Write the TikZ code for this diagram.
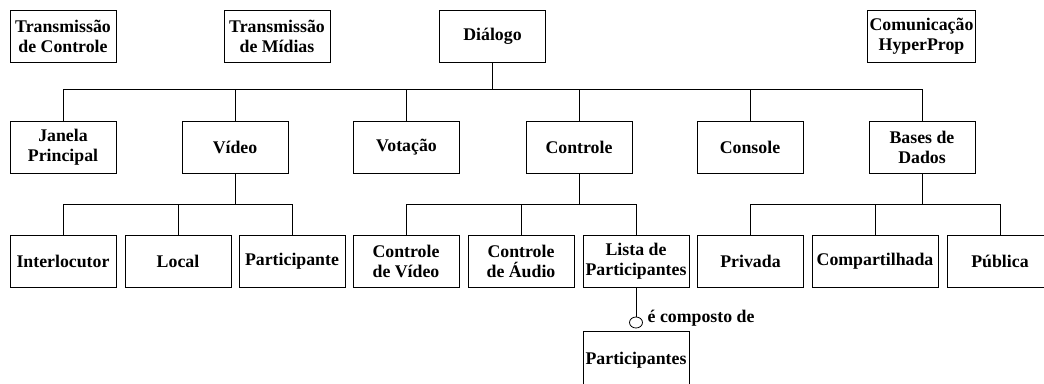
\documentclass[tikz,border=0pt]{standalone}
\usepackage{fontspec}
\setmainfont{Liberation Serif}
\usetikzlibrary{shapes.geometric}
\begin{document}
\begin{tikzpicture}[x=1pt,y=-1pt,
  box/.style={draw, line width=0.8pt, minimum width=106pt, minimum height=52pt, inner sep=2pt, align=center, font=\bfseries\fontsize{17.8}{20}\selectfont},
  conn/.style={line width=0.8pt},
  lbl/.style={font=\bfseries\fontsize{17.8}{20}\selectfont, inner sep=0pt}]
\useasboundingbox (0,0) rectangle (1044,383);
\clip (0,0) rectangle (1044,383);
% row 0
\node[box] (tc) at (63,36) {Transmissão\\de Controle};
\node[box] (tm) at (277,36) {Transmissão\\de Mídias};
\node[box] (dia) at (492.5,36) {Diálogo};
\node[box, minimum width=107pt] (com) at (921.5,36) {Comunicação\\HyperProp};
% row 1
\node[box] (jan) at (63,147) {Janela\\Principal};
\node[box] (vid) at (235,147) {Vídeo};
\node[box] (vot) at (406.5,147) {Votação};
\node[box] (ctl) at (579,147) {Controle};
\node[box] (con) at (750,147) {Console};
\node[box] (bas) at (922,147) {Bases de\\Dados};
% row 2
\node[box] (int) at (63,261) {Interlocutor};
\node[box] (loc) at (178,261) {Local};
\node[box] (par) at (292,261) {Participante};
\node[box] (cv) at (406,261) {Controle\\de Vídeo};
\node[box] (ca) at (521,261) {Controle\\de Áudio};
\node[box] (lp) at (636,261) {Lista de\\Participantes};
\node[box] (pri) at (750.5,261) {Privada};
\node[box, minimum width=126pt] (cmp) at (875,261) {Compartilhada};
\node[box] (pub) at (1000,261) {Pública};
% row 3
\node[box, minimum height=58pt] (pts) at (636,360) {\raisebox{3pt}{Participantes}};
% buses
\coordinate (b0) at (492.5,89);
\coordinate (b1) at (235,204);
\coordinate (b2) at (579,204);
\coordinate (b3) at (922,204);
\draw[conn] (dia.south) -- (b0);
\foreach \n in {jan,vid,vot,ctl,con,bas} \draw[conn] (\n.north) |- (b0);
\draw[conn] (vid.south) -- (b1);
\foreach \n in {int,loc,par} \draw[conn] (\n.north) |- (b1);
\draw[conn] (ctl.south) -- (b2);
\foreach \n in {cv,ca,lp} \draw[conn] (\n.north) |- (b2);
\draw[conn] (bas.south) -- (b3);
\foreach \n in {pri,cmp,pub} \draw[conn] (\n.north) |- (b3);
% composition
\node[draw, ellipse, line width=0.8pt, minimum width=13pt, minimum height=11pt, inner sep=0pt] (circ) at (636,322.5) {};
\draw[conn] (circ.north) -- (circ.north |- lp.south);
\node[lbl, anchor=base west] (comp) at (647.5,322.5) {é composto de};
\end{tikzpicture}
\end{document}
